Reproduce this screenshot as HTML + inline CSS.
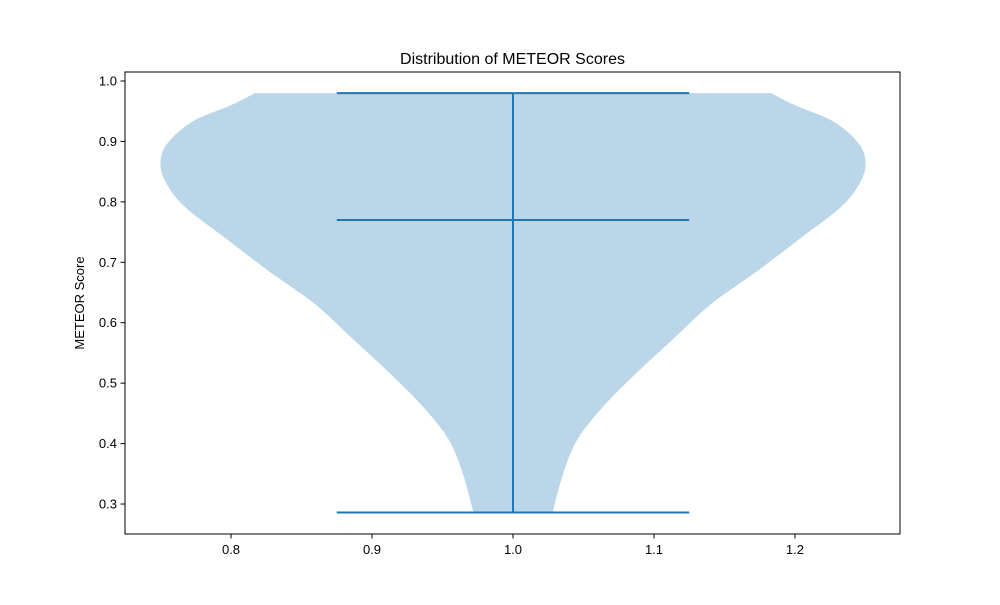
<!DOCTYPE html>
<html><head><meta charset="utf-8"><style>
body{margin:0;background:#fff;font-family:"Liberation Sans",sans-serif}
</style></head><body>
<svg id="chart" width="1000" height="600" xmlns="http://www.w3.org/2000/svg">
<rect width="1000" height="600" fill="#fff"/>
<text x="512.5" y="64" text-anchor="middle" font-size="16" font-family="Liberation Sans, sans-serif">Distribution of METEOR Scores</text>
<text transform="translate(84,303) rotate(-90)" text-anchor="middle" font-size="13" font-family="Liberation Sans, sans-serif">METEOR Score</text>
<g id="plot"></g>
<rect x="125" y="72" width="775" height="462" fill="none" stroke="#000" stroke-width="1"/>
</svg>
<script>
const densityY = [0.98, 0.96, 0.932, 0.894, 0.86, 0.827, 0.79, 0.74, 0.685, 0.63, 0.574, 0.52, 0.464, 0.408, 0.353, 0.286];
const densityHalfWidth = [0.183, 0.200, 0.228, 0.246, 0.250, 0.245, 0.232, 0.204, 0.173, 0.140, 0.114, 0.089, 0.065, 0.046, 0.036, 0.028];
const statMin = [0.286];
const statMax = [0.98];
const statMedian = [0.77];
const xTicks = [0.8, 0.9, 1.0, 1.1, 1.2];
const xTickLabels = ["0.8", "0.9", "1.0", "1.1", "1.2"];
const yTicks = [0.3, 0.4, 0.5, 0.6, 0.7, 0.8, 0.9, 1.0];
const yTickLabels = ["0.3", "0.4", "0.5", "0.6", "0.7", "0.8", "0.9", "1.0"];

const X0 = 125, X1 = 900, Y0 = 72, Y1 = 534;
const xMin = 0.7248, xMax = 1.2745, yMin = 0.2504, yMax = 1.0149;
const sx = v => X0 + (v - xMin) / (xMax - xMin) * (X1 - X0);
const sy = v => Y1 - (v - yMin) / (yMax - yMin) * (Y1 - Y0);
const NS = "http://www.w3.org/2000/svg";
const g = document.getElementById('plot');
const center = 1.0;

function catmull(pts) {
  let d = `M${pts[0][0]},${pts[0][1]}`;
  for (let i = 0; i < pts.length - 1; i++) {
    const p0 = pts[Math.max(0, i - 1)], p1 = pts[i], p2 = pts[i + 1], p3 = pts[Math.min(pts.length - 1, i + 2)];
    const c1 = [p1[0] + (p2[0] - p0[0]) / 6, p1[1] + (p2[1] - p0[1]) / 6];
    const c2 = [p2[0] - (p3[0] - p1[0]) / 6, p2[1] - (p3[1] - p1[1]) / 6];
    d += ` C${c1[0]},${c1[1]} ${c2[0]},${c2[1]} ${p2[0]},${p2[1]}`;
  }
  return d;
}
const left = densityY.map((y, i) => [sx(center - densityHalfWidth[i]), sy(y)]);
const right = densityY.map((y, i) => [sx(center + densityHalfWidth[i]), sy(y)]).reverse();
const body = document.createElementNS(NS, 'path');
body.setAttribute('d', catmull(left) + ' L' + right[0][0] + ',' + right[0][1] + catmull(right).replace(/^M[^C]*/, ' ') + ' Z');
body.setAttribute('fill', '#1f77b4');
body.setAttribute('fill-opacity', '0.3');


g.appendChild(body);

function line(x1, y1, x2, y2, name) {
  const l = document.createElementNS(NS, 'line');
  l.setAttribute('x1', x1); l.setAttribute('y1', y1); l.setAttribute('x2', x2); l.setAttribute('y2', y2);
  l.setAttribute('stroke', '#1f77b4'); l.setAttribute('stroke-width', '2');
  
  
  g.appendChild(l);
}
line(sx(center), sy(statMin[0]), sx(center), sy(statMax[0]), 'violin-range-bar');
line(sx(center - 0.125), sy(statMax[0]), sx(center + 0.125), sy(statMax[0]), 'violin-max-cap');
line(sx(center - 0.125), sy(statMin[0]), sx(center + 0.125), sy(statMin[0]), 'violin-min-cap');
line(sx(center - 0.125), sy(statMedian[0]), sx(center + 0.125), sy(statMedian[0]), 'violin-median-line');

function tick(x1, y1, x2, y2, name) {
  const l = document.createElementNS(NS, 'line');
  l.setAttribute('x1', x1); l.setAttribute('y1', y1); l.setAttribute('x2', x2); l.setAttribute('y2', y2);
  l.setAttribute('stroke', '#000'); l.setAttribute('stroke-width', '1');
  
  
  g.appendChild(l);
}
function label(x, y, s, anchor, name) {
  const t = document.createElementNS(NS, 'text');
  t.setAttribute('x', x); t.setAttribute('y', y); t.setAttribute('text-anchor', anchor);
  t.setAttribute('font-size', '13'); t.setAttribute('font-family', 'Liberation Sans, sans-serif');
  t.textContent = s;
  
  
  g.appendChild(t);
}
xTicks.forEach((v, i) => {
  const x = sx(v);
  tick(x, Y1, x, Y1 + 4.5, 'x-tick');
  label(x, Y1 + 20, xTickLabels[i], 'middle', 'x-tick-label');
});
yTicks.forEach((v, i) => {
  const y = sy(v);
  tick(X0 - 4.5, y, X0, y, 'y-tick');
  label(X0 - 8, y + 4.5, yTickLabels[i], 'end', 'y-tick-label');
});
</script>
</body></html>
